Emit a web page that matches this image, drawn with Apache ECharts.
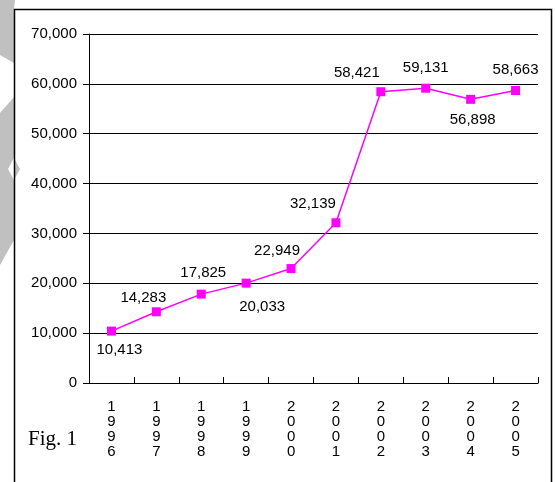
<!DOCTYPE html>
<html>
<head>
<meta charset="utf-8">
<script src="https://cdn.jsdelivr.net/npm/echarts@6/dist/echarts.min.js"></script>
<style>
html,body{margin:0;padding:0;background:#fff;}
#chart{width:555px;height:482px;}
</style>
</head>
<body>
<div id="chart"></div>
<script>
const categories = ['1996','1997','1998','1999','2000','2001','2002','2003','2004','2005'];
const values = [10413, 14283, 17825, 20033, 22949, 32139, 58421, 59131, 56898, 58663];
const yTicks = [0, 10000, 20000, 30000, 40000, 50000, 60000, 70000];
const figLabel = 'Fig. 1';

// label offsets relative to each marker (style only)
const labelOffsets = [[8,19],[-13,-14],[2,-21],[16,24],[-14,-18],[-23,-19],[-24,-19],[0,-20],[2,21],[0,-21]];

const fmt = v => Number(v).toLocaleString('en-US');
const gray = '#c0c0c0';

const chart = echarts.init(document.getElementById('chart'), null, {renderer:'canvas'});
chart.setOption({
  animation: false,
  backgroundColor: '#fff',
  grid: {left: 89, right: 17, top: 34, bottom: 99, containLabel: false},
  xAxis: {
    type: 'category',
    data: categories,
    boundaryGap: true,
    axisLine: {show: true, lineStyle: {color: '#000', width: 1}},
    axisTick: {show: true, inside: true, length: 6, alignWithLabel: false, lineStyle: {color: '#000'}},
    axisLabel: {
      margin: 16, interval: 0, color: '#000',
      fontFamily: 'Liberation Sans, Arial, sans-serif', fontSize: 15, lineHeight: 15,
      formatter: v => String(v).split('').join('\n')
    },
    splitLine: {show: false}
  },
  yAxis: {
    type: 'value',
    min: yTicks[0], max: yTicks[yTicks.length-1], interval: 10000,
    axisLine: {show: true, lineStyle: {color: '#000', width: 1}},
    axisTick: {show: true, inside: false, length: 6, lineStyle: {color: '#000'}},
    axisLabel: {margin: 12, color: '#000', fontFamily: 'Liberation Sans, Arial, sans-serif', fontSize: 15, formatter: fmt},
    splitLine: {show: true, lineStyle: {color: '#000', width: 1}}
  },
  series: [{
    type: 'line',
    data: values.map((v, i) => ({
      value: v,
      label: {offset: labelOffsets[i]}
    })),
    symbol: 'rect',
    symbolSize: 9,
    lineStyle: {color: '#ff00ff', width: 1.5},
    itemStyle: {color: '#ff00ff'},
    label: {
      show: true, position: 'inside', align: 'center', verticalAlign: 'middle',
      color: '#000', fontFamily: 'Liberation Sans, Arial, sans-serif', fontSize: 15,
      formatter: p => fmt(p.value)
    },
    emphasis: {disabled: true}
  }],
  graphic: [
    {type: 'polygon', z: 0, shape: {points: [[0,0],[15,0],[14,9],[14,63],[0,55]]}, style: {fill: gray}},
    {type: 'polygon', z: 0, shape: {points: [[14,97],[14,158],[8,169],[14,180],[14,240],[0,265],[0,113]]}, style: {fill: gray}},
    {type: 'polygon', z: 0, shape: {points: [[14,158],[20,169],[14,180]]}, style: {fill: gray}},
    {type: 'rect', z: 1, shape: {x: 14.5, y: 9.5, width: 537, height: 490}, style: {fill: 'none', stroke: '#000', lineWidth: 1.5}},
    {type: 'text', z: 2, left: 28, top: 429, style: {text: figLabel, fill: '#000', font: '21px "Liberation Serif", "DejaVu Serif", serif'}}
  ]
});
</script>
</body>
</html>
